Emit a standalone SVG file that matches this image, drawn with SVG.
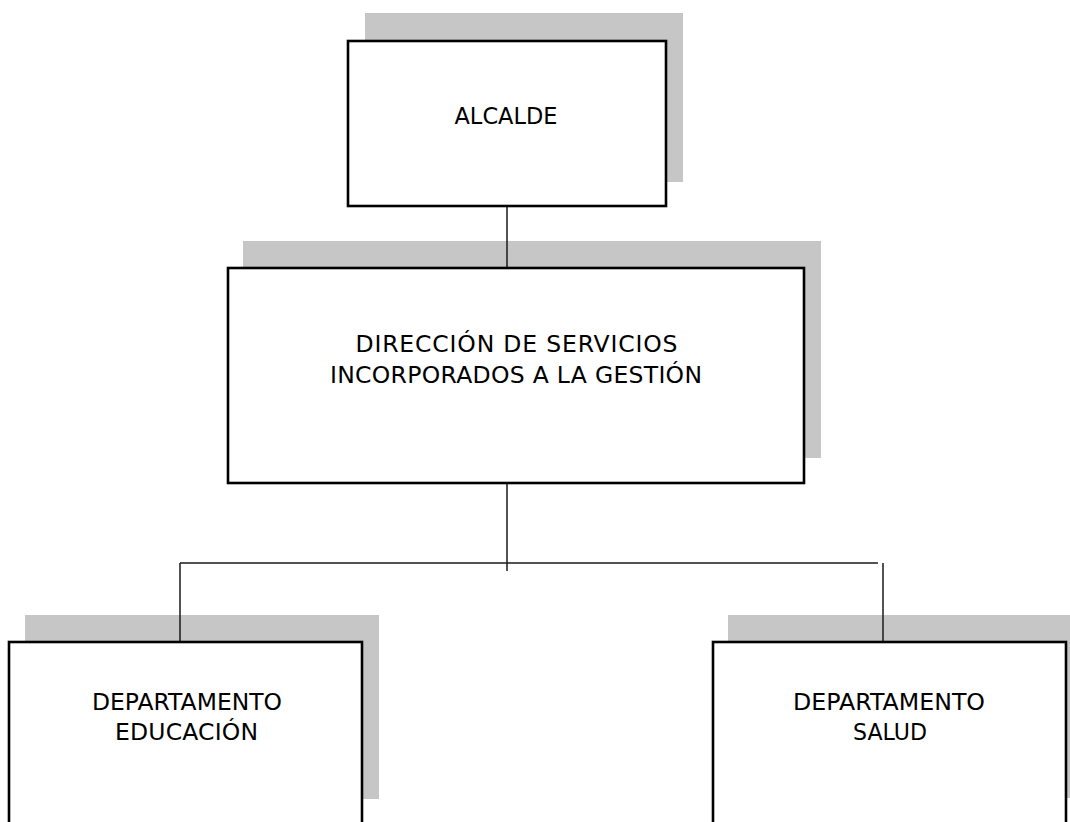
<svg xmlns="http://www.w3.org/2000/svg" width="1070" height="822" viewBox="0 0 1070 822">
<style>
.shadow{fill:#c6c6c6;stroke:none}
.box{fill:#ffffff;stroke:#000000;stroke-width:2.6}
.lbl{font-family:"DejaVu Sans","Verdana",sans-serif;font-size:23.5px;fill:#000000;text-anchor:middle}
.conn{stroke:#1a1a1a;stroke-width:1.5;fill:none}
</style>
<rect x="0" y="0" width="1070" height="822" fill="#ffffff"/>
<g id="connectors">
<line class="conn" x1="507" y1="206" x2="507" y2="268"/>
<line class="conn" x1="507" y1="483" x2="507" y2="571"/>
<line class="conn" x1="180" y1="563" x2="878" y2="563"/>
<line class="conn" x1="180" y1="563" x2="180" y2="642"/>
<line class="conn" x1="883" y1="563" x2="883" y2="642"/>
</g>
<g id="alcalde">
<rect class="shadow" x="365" y="13" width="318" height="169"/>
<line class="conn" x1="507" y1="182" x2="507" y2="206"/>
<rect class="box" x="348" y="41" width="318" height="165"/>
<text class="lbl" x="506" y="124" textLength="103" lengthAdjust="spacingAndGlyphs">ALCALDE</text>
</g>
<g id="direccion">
<rect class="shadow" x="243" y="241" width="578" height="217"/>
<line class="conn" x1="507" y1="241" x2="507" y2="268"/>
<rect class="box" x="228" y="268" width="576" height="215"/>
<text class="lbl" x="516.5" y="352" textLength="322" lengthAdjust="spacing">DIRECCIÓN DE SERVICIOS</text>
<text class="lbl" x="516" y="383" textLength="372" lengthAdjust="spacing">INCORPORADOS A LA GESTIÓN</text>
</g>
<g id="educacion">
<rect class="shadow" x="25" y="615" width="354" height="184"/>
<line class="conn" x1="180" y1="615" x2="180" y2="642"/>
<rect class="box" x="9" y="642" width="353" height="200"/>
<text class="lbl" x="187" y="710" textLength="190" lengthAdjust="spacingAndGlyphs">DEPARTAMENTO</text>
<text class="lbl" x="186.5" y="740" textLength="143" lengthAdjust="spacing">EDUCACIÓN</text>
</g>
<g id="salud">
<rect class="shadow" x="728" y="615" width="360" height="183"/>
<line class="conn" x1="883" y1="615" x2="883" y2="642"/>
<rect class="box" x="713" y="642" width="353" height="200"/>
<text class="lbl" x="889" y="710" textLength="192" lengthAdjust="spacingAndGlyphs">DEPARTAMENTO</text>
<text class="lbl" x="890" y="740" textLength="74" lengthAdjust="spacingAndGlyphs">SALUD</text>
</g>
</svg>
